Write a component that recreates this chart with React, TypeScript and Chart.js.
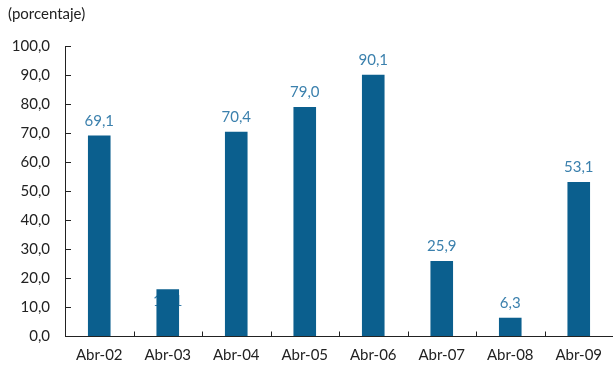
import React, { useEffect, useRef } from "react";
import { Chart, registerables } from "chart.js";

Chart.register(...registerables);

const categories = ["Abr-02", "Abr-03", "Abr-04", "Abr-05", "Abr-06", "Abr-07", "Abr-08", "Abr-09"];
const values = [69.1, 16.1, 70.4, 79.0, 90.1, 25.9, 6.3, 53.1];
const yTicks = [0, 10, 20, 30, 40, 50, 60, 70, 80, 90, 100];
const unitLabel = "(porcentaje)";

const FONT = "Lato, 'Open Sans', sans-serif";
const fmt = (v: number) => v.toFixed(1).replace(".", ",");

const labelPlugin = {
  id: "valueLabels",
  beforeDatasetsDraw(chart: any) {
    const { ctx } = chart;
    const meta = chart.getDatasetMeta(0);
    ctx.save();
    ctx.font = `15px ${FONT}`;
    ctx.fillStyle = "#3b80ad";
    ctx.textAlign = "center";
    ctx.textBaseline = "alphabetic";
    meta.data.forEach((bar: any, i: number) => {
      // the Abr-03 label sits behind its bar in the reference
      const y = i === 1 ? bar.y + 17 : bar.y - 10;
      ctx.fillText(fmt(values[i]), bar.x, y);
    });
    ctx.restore();
  },
  afterDraw(chart: any) {
    const { ctx, chartArea } = chart;
    const xs = chart.scales.x;
    const ys = chart.scales.y;
    ctx.save();
    ctx.strokeStyle = "#222";
    ctx.lineWidth = 1;
    ctx.beginPath();
    // y axis line
    ctx.moveTo(chartArea.left + 0.5, ys.getPixelForValue(100));
    ctx.lineTo(chartArea.left + 0.5, ys.getPixelForValue(0));
    // y ticks inward
    yTicks.forEach((t) => {
      const py = Math.round(ys.getPixelForValue(t)) + 0.5;
      ctx.moveTo(chartArea.left, py);
      ctx.lineTo(chartArea.left + 6, py);
    });
    // x axis line
    const by = Math.round(ys.getPixelForValue(0)) + 0.5;
    ctx.moveTo(chartArea.left, by);
    ctx.lineTo(chartArea.right, by);
    // x ticks at category boundaries
    const step = (chartArea.right - chartArea.left) / categories.length;
    for (let i = 1; i < categories.length; i++) {
      const px = Math.round(xs.getPixelForValue(i) - step / 2) + 0.5;
      ctx.moveTo(px, by);
      ctx.lineTo(px, by - 5);
    }
    ctx.stroke();
    // unit label
    ctx.font = `15px ${FONT}`;
    ctx.fillStyle = "#222";
    ctx.textAlign = "left";
    ctx.textBaseline = "middle";
    ctx.fillText(unitLabel, 8, 14);
    ctx.restore();
  },
};

export default function App() {
  const ref = useRef<HTMLCanvasElement | null>(null);
  useEffect(() => {
    document.body.style.margin = "0";
    document.body.style.overflow = "hidden";
    const chart = new Chart(ref.current as HTMLCanvasElement, {
      type: "bar",
      data: {
        labels: categories,
        datasets: [
          {
            data: values,
            backgroundColor: "#0b5f8e",
            barPercentage: 0.33,
            categoryPercentage: 1,
          },
        ],
      },
      options: {
        animation: false,
        responsive: false,
        maintainAspectRatio: false,
        layout: { padding: { top: 46, right: 0, left: 0, bottom: 0 } },
        plugins: { legend: { display: false }, tooltip: { enabled: false }, title: { display: false } },
        scales: {
          x: {
            grid: { display: false, drawTicks: false },
            border: { display: false },
            ticks: { color: "#222", font: { family: FONT, size: 15 }, padding: 10, maxRotation: 0 },
            afterFit: (s: any) => {
              s.height = 34;
            },
          },
          y: {
            min: 0,
            max: 100,
            afterBuildTicks: (s: any) => {
              s.ticks = yTicks.map((v) => ({ value: v }));
            },
            grid: { display: false, drawTicks: false },
            border: { display: false },
            ticks: {
              color: "#222",
              font: { family: FONT, size: 15 },
              padding: 15,
              callback: (v: any) => fmt(Number(v)),
            },
            afterFit: (s: any) => {
              s.width = 65;
            },
          },
        },
      },
      plugins: [labelPlugin],
    });
    return () => chart.destroy();
  }, []);
  return (
    <div style={{ position: "absolute", left: 0, top: 0, width: 613, height: 370 }}>
      <canvas ref={ref} width={613} height={370} style={{ width: 613, height: 370 }} />
    </div>
  );
}
